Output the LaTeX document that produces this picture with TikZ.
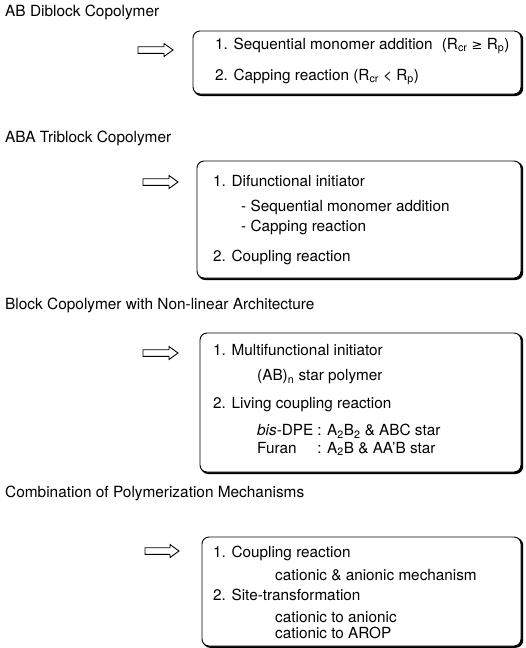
\documentclass[tikz,border=0pt]{standalone}
\usepackage{fontspec}
\setmainfont{TeX Gyre Heros}
\newfontfamily\symfont{DejaVu Sans}
\begin{document}
\begin{tikzpicture}[x=1pt,y=-1pt,
  title/.style={anchor=west,inner sep=0pt,font=\fontsize{15.4}{18}\selectfont},
  txt/.style={anchor=west,inner sep=0pt,font=\fontsize{15.3}{16}\selectfont},
  boxshape/.style={draw=black,line width=0.9pt,rounded corners=7pt,fill=white},
  boxshadow/.style={draw=black,line width=1.2pt,rounded corners=7pt,fill=black},
  hollowarrow/.style={draw=black,line width=0.9pt,fill=white,line join=miter}]
\useasboundingbox (0,0) rectangle (526,648);
\newcommand{\hollowarr}[3]{% x0, x1, y
  \draw[hollowarrow] (#1,#3-3.3) -- (#2-9,#3-3.3) -- (#2-9,#3-6.5) -- (#2,#3) -- (#2-9,#3+6.5) -- (#2-9,#3+3.3) -- (#1,#3+3.3) -- cycle;}
\newcommand{\sub}[1]{\textsubscript{#1}}

% Titles
\node[title] (t1) at (5,12) {AB Diblock Copolymer};
\node[title] (t2) at (5,138) {ABA Triblock Copolymer};
\node[title] (t3) at (5,305) {Block Copolymer with Non-linear Architecture};
\node[title] (t4) at (5,493) {Combination of Polymerization Mechanisms};

% Boxes
\draw[boxshadow] (194.2,32.2) rectangle (522.6,95.4);
\draw[boxshape] (193,31) rectangle (521,94);
\draw[boxshadow] (198.2,162.2) rectangle (522.6,279.4);
\draw[boxshape] (197,161) rectangle (521,278);
\draw[boxshadow] (201.2,334.2) rectangle (522.6,473.4);
\draw[boxshape] (200,333) rectangle (521,472);
\draw[boxshadow] (203.2,538.2) rectangle (522.6,647.2);
\draw[boxshape] (202,537) rectangle (521,646);

% Arrows
\hollowarr{138}{173}{50}
\hollowarr{143}{178}{182}
\hollowarr{143}{178}{353}
\hollowarr{145}{179}{551}

% Box 1
\node[txt] (a1) at (215,46) {1. Sequential monomer addition\hspace{0.6em}(R\sub{cr} {\symfont\fontsize{13}{16}\selectfont ≥} R\sub{p})};
\node[txt] (a2) at (215,77) {2. Capping reaction (R\sub{cr} < R\sub{p})};

% Box 2
\node[txt] (b1) at (213,181) {1. Difunctional initiator};
\node[txt] (b2) at (241,207) {- Sequential monomer addition};
\node[txt] (b3) at (241,227) {- Capping reaction};
\node[txt] (b4) at (213,257) {2. Coupling reaction};

% Box 3
\node[txt] (c1) at (213,350) {1. Multifunctional initiator};
\node[txt] (c2) at (257,377) {(AB)\sub{n} star polymer};
\node[txt] (c3) at (213,405) {2. Living coupling reaction};
\node[txt] (c4) at (257,441) {\begin{tabular}{@{}l@{\hspace{4pt}}l@{}}
\textit{bis}-DPE & : A\sub{2}B\sub{2} \& ABC star\\[1.5pt]
Furan & : A\sub{2}B \& AA'B star
\end{tabular}};

% Box 4
\node[txt] (d1) at (213,553) {1. Coupling reaction};
\node[txt] (d2) at (275,575) {cationic \& anionic mechanism};
\node[txt] (d3) at (213,595) {2. Site-transformation};
\node[txt,align=left] (d4) at (275,625) {cationic to anionic\\ cationic to AROP};
\end{tikzpicture}
\end{document}
